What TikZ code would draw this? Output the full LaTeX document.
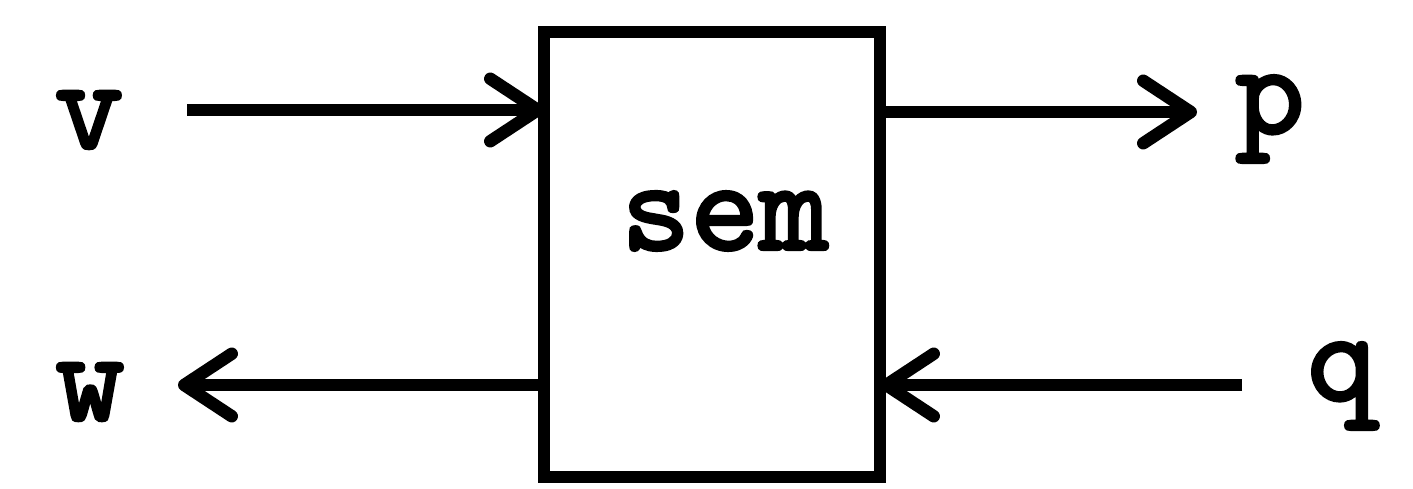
\documentclass[tikz,border=0pt]{standalone}
\usepackage{fontspec}
\newfontfamily\typew[FakeBold=2.5]{lmmono10-regular.otf}
\usetikzlibrary{arrows.meta}
\tikzset{
  lbl/.style={inner sep=0pt, outer sep=0pt, font=\typew\fontsize{75}{75}\selectfont},
  blk/.style={draw, line width=0.25cm, inner sep=0pt, outer sep=0pt, minimum width=6.72cm, minimum height=8.9cm},
  conn/.style={line width=0.25cm, -{Straight Barb[length=0.95cm, width=1.25cm, line cap=round, line join=round]}}
}
\begin{document}
\begin{tikzpicture}[x=0.02cm, y=-0.02cm]
\useasboundingbox (0,0) rectangle (1413,489);
\node[blk] (box) at (712,254.5) {};
\node[lbl] (sem) at (725,221) {sem};
\node[lbl] (v) at (89,120) {v};
\node[lbl] (w) at (90,392) {w};
\node[lbl] (p) at (1270,119) {p};
\node[lbl] (q) at (1342,386) {q};
\coordinate (vs) at (187,110);
\coordinate (pe) at (1197,112);
\coordinate (we) at (178,385);
\coordinate (qs) at (1242,385);
\draw[conn] (vs) -- (vs -| box.west);
\draw[conn] (pe -| box.east) -- (pe);
\draw[conn] (we -| box.west) -- (we);
\draw[conn] (qs) -- (qs -| box.east);
\end{tikzpicture}
\end{document}
